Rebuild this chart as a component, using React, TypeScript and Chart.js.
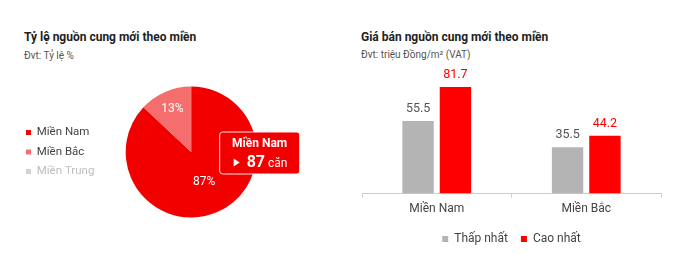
import React, { useEffect, useRef } from "react";
import { Chart, registerables } from "chart.js";
Chart.register(...registerables);

const FONT = "Roboto, 'Noto Sans', sans-serif";

// Left: share of new supply by region
const pieTitle = "Tỷ lệ nguồn cung mới theo miền";
const pieSubtitle = "Đvt: Tỷ lệ %";
const pieLabels = ["Miền Nam", "Miền Bắc", "Miền Trung"];
const pieValues = [87, 13, 0];
const pieColors = ["#f20000", "#f46e6e", "#d2d2d2"];
const pieLegendTextColors = ["#444444", "#444444", "#bdbdbd"];
const tooltipTitle = "Miền Nam";
const tooltipValue = "87";
const tooltipUnit = "căn";

// Right: selling price of new supply by region
const barTitle = "Giá bán nguồn cung mới theo miền";
const barSubtitle = "Đvt: triệu Đồng/m² (VAT)";
const barCategories = ["Miền Nam", "Miền Bắc"];
const seriesNames = ["Thấp nhất", "Cao nhất"];
const lowValues = [55.5, 35.5];
const highValues = [81.7, 44.2];
const seriesColors = ["#b4b4b4", "#ff0000"];
const labelColors = ["#555555", "#ff0000"];

const pieExtras = {
  id: "pieExtras",
  afterDatasetsDraw(chart: any) {
    const ctx = chart.ctx;
    const meta = chart.getDatasetMeta(0);
    ctx.save();
    ctx.fillStyle = "#ffffff";
    ctx.font = `400 12px ${FONT}`;
    ctx.textAlign = "center";
    ctx.textBaseline = "middle";
    meta.data.forEach((arc: any, i: number) => {
      const v = pieValues[i];
      if (!v) return;
      const mid = (arc.startAngle + arc.endAngle) / 2;
      const f = v < 20 ? 0.72 : 0.5;
      ctx.fillText(
        v + "%",
        arc.x + Math.cos(mid) * arc.outerRadius * f,
        arc.y + Math.sin(mid) * arc.outerRadius * f
      );
    });
    // tooltip-like callout
    const a = meta.data[0];
    const bx = a.x + 28.5;
    const by = a.y - 20;
    const w = 80;
    const h = 42;
    ctx.beginPath();
    (ctx as any).roundRect(bx, by, w, h, 3);
    ctx.fillStyle = pieColors[0];
    ctx.fill();
    ctx.lineWidth = 1;
    ctx.strokeStyle = "rgba(255,255,255,0.9)";
    ctx.stroke();
    ctx.fillStyle = "#ffffff";
    ctx.font = `700 12px ${FONT}`;
    ctx.textAlign = "center";
    ctx.fillText(tooltipTitle, bx + w / 2, by + 12);
    // triangle
    const ty = by + 30.5;
    ctx.beginPath();
    ctx.moveTo(bx + 14, ty - 4);
    ctx.lineTo(bx + 20, ty);
    ctx.lineTo(bx + 14, ty + 4);
    ctx.closePath();
    ctx.fill();
    ctx.textAlign = "left";
    ctx.font = `700 16px ${FONT}`;
    ctx.fillText(tooltipValue, bx + 27, ty);
    const vw = ctx.measureText(tooltipValue).width;
    ctx.font = `400 12px ${FONT}`;
    ctx.fillText(tooltipUnit, bx + 27 + vw + 3, ty + 1);
    ctx.restore();
  },
};

const barLabels = {
  id: "barLabels",
  afterDatasetsDraw(chart: any) {
    const ctx = chart.ctx;
    ctx.save();
    ctx.font = `400 12.5px ${FONT}`;
    ctx.textAlign = "center";
    ctx.textBaseline = "middle";
    chart.data.datasets.forEach((ds: any, di: number) => {
      const meta = chart.getDatasetMeta(di);
      ctx.fillStyle = labelColors[di];
      meta.data.forEach((bar: any, i: number) => {
        ctx.fillText(String(ds.data[i]), bar.x, bar.y - 12);
      });
    });
    ctx.restore();
  },
};

function PieChart() {
  const ref = useRef<HTMLCanvasElement>(null);
  useEffect(() => {
    const chart = new Chart(ref.current!, {
      type: "pie",
      data: {
        labels: pieLabels,
        datasets: [{ data: pieValues, backgroundColor: pieColors, borderWidth: 0 }],
      },
      options: {
        animation: false,
        responsive: false,
        events: [],
        layout: { padding: { left: 18, right: 62, top: 9.5, bottom: 9.5 } },
        plugins: {
          tooltip: { enabled: false },
          legend: {
            position: "left",
            labels: {
              boxWidth: 5,
              boxHeight: 5,
              padding: 8,
              font: { family: FONT, size: 11.5 },
              generateLabels: () =>
                pieLabels.map((t, i) => ({
                  text: t,
                  fillStyle: pieColors[i],
                  strokeStyle: pieColors[i],
                  lineWidth: 0,
                  fontColor: pieLegendTextColors[i],
                  hidden: false,
                  index: i,
                })),
            },
          },
        },
      } as any,
      plugins: [pieExtras],
    });
    return () => chart.destroy();
  }, []);
  return <canvas ref={ref} width={340} height={150} style={{ position: "absolute", left: 0, top: 77 }} />;
}

function BarChart() {
  const ref = useRef<HTMLCanvasElement>(null);
  useEffect(() => {
    const chart = new Chart(ref.current!, {
      type: "bar",
      data: {
        labels: barCategories,
        datasets: [
          { label: seriesNames[0], data: lowValues, backgroundColor: seriesColors[0], categoryPercentage: 0.5, barPercentage: 0.84 },
          { label: seriesNames[1], data: highValues, backgroundColor: seriesColors[1], categoryPercentage: 0.5, barPercentage: 0.84 },
        ],
      },
      options: {
        animation: false,
        responsive: false,
        events: [],
        layout: { padding: { left: 22, right: 19, top: 3, bottom: 5 } },
        scales: {
          x: {
            grid: { display: true, drawOnChartArea: false, tickLength: 4, color: "#cccccc", offset: true },
            border: { color: "#cccccc" },
            ticks: { color: "#444444", font: { family: FONT, size: 12 }, padding: 4 },
          },
          y: { display: false, min: 0, max: 100 },
        },
        plugins: {
          tooltip: { enabled: false },
          legend: {
            position: "bottom",
            labels: {
              boxWidth: 6,
              boxHeight: 6,
              padding: 13,
              color: "#444444",
              font: { family: FONT, size: 12 },
            },
          },
        },
      } as any,
      plugins: [barLabels],
    });
    return () => chart.destroy();
  }, []);
  return <canvas ref={ref} width={340} height={200} style={{ position: "absolute", left: 340, top: 60 }} />;
}

const titleStyle: React.CSSProperties = {
  position: "absolute",
  fontFamily: FONT,
  fontWeight: 700,
  fontSize: 12,
  color: "#222",
  whiteSpace: "nowrap",
  lineHeight: "14px",
};
const subStyle: React.CSSProperties = {
  position: "absolute",
  fontFamily: FONT,
  fontSize: 10,
  color: "#555",
  whiteSpace: "nowrap",
  lineHeight: "12px",
};

export default function App() {
  return (
    <div style={{ position: "absolute", left: 0, top: 0, width: 680, height: 266, background: "#fff", overflow: "hidden" }}>
      <div style={{ ...titleStyle, left: 24, top: 30 }}>{pieTitle}</div>
      <div style={{ ...subStyle, left: 24, top: 50 }}>{pieSubtitle}</div>
      <div style={{ ...titleStyle, left: 361, top: 30 }}>{barTitle}</div>
      <div style={{ ...subStyle, left: 361, top: 49 }}>{barSubtitle}</div>
      <PieChart />
      <BarChart />
    </div>
  );
}
